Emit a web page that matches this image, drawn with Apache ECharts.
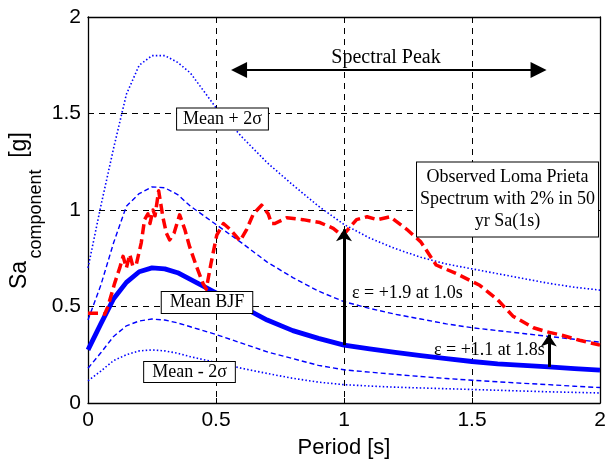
<!DOCTYPE html>
<html>
<head>
<meta charset="utf-8">
<script src="https://cdn.jsdelivr.net/npm/echarts@6/dist/echarts.min.js"></script>
<style>
html,body{margin:0;padding:0;background:#fff;}
#chart{width:613px;height:464px;}
</style>
</head>
<body>
<div id="chart"></div>
<script>
// ---- data ----
const xTicks = [0, 0.5, 1, 1.5, 2];
const xTickLabels = ['0', '0.5', '1', '1.5', '2'];
const yTicks = [0, 0.5, 1, 1.5, 2];
const yTickLabels = ['0', '0.5', '1', '1.5', '2'];

const modelPeriods = [0, 0.05, 0.1, 0.15, 0.2, 0.25, 0.3, 0.35, 0.4, 0.5, 0.6, 0.7, 0.8, 0.9, 1.0, 1.1, 1.2, 1.3, 1.4, 1.5, 1.6, 1.7, 1.8, 1.9, 2.0];
const meanBJF    = [0.275, 0.41, 0.54, 0.625, 0.68, 0.70, 0.695, 0.675, 0.64, 0.57, 0.50, 0.43, 0.375, 0.335, 0.30, 0.28, 0.262, 0.245, 0.23, 0.215, 0.203, 0.195, 0.187, 0.178, 0.17];
const meanPlus1  = [0.43, 0.61, 0.83, 1.02, 1.085, 1.12, 1.115, 1.08, 1.02, 0.925, 0.83, 0.73, 0.65, 0.58, 0.525, 0.49, 0.46, 0.435, 0.41, 0.39, 0.375, 0.36, 0.345, 0.33, 0.315];
const meanMinus1 = [0.18, 0.26, 0.345, 0.40, 0.425, 0.435, 0.43, 0.415, 0.395, 0.355, 0.31, 0.265, 0.23, 0.195, 0.172, 0.16, 0.148, 0.137, 0.127, 0.118, 0.11, 0.102, 0.095, 0.087, 0.08];
const meanPlus2  = [0.70, 1.02, 1.32, 1.60, 1.75, 1.80, 1.80, 1.765, 1.71, 1.53, 1.38, 1.245, 1.13, 1.02, 0.925, 0.855, 0.80, 0.755, 0.72, 0.695, 0.67, 0.645, 0.62, 0.60, 0.585];
const meanMinus2 = [0.115, 0.165, 0.22, 0.25, 0.27, 0.275, 0.27, 0.258, 0.24, 0.21, 0.18, 0.153, 0.128, 0.108, 0.095, 0.088, 0.082, 0.078, 0.074, 0.07, 0.066, 0.062, 0.058, 0.055, 0.052];

const obsPeriods = [0, 0.05, 0.065, 0.078, 0.104, 0.124, 0.137, 0.15, 0.163, 0.175, 0.189, 0.208, 0.221, 0.234, 0.242, 0.254, 0.262, 0.276, 0.293, 0.306, 0.319, 0.336, 0.358, 0.378, 0.397, 0.423, 0.449, 0.462, 0.48, 0.503, 0.529, 0.555, 0.594, 0.62, 0.646, 0.678, 0.704, 0.717, 0.73, 0.776, 0.84, 0.906, 0.958, 0.99, 1.01, 1.049, 1.09, 1.13, 1.18, 1.245, 1.30, 1.36, 1.44, 1.53, 1.60, 1.66, 1.74, 1.79, 1.855, 1.92, 2.0];
const obsSa      = [0.465, 0.465, 0.46, 0.50, 0.62, 0.70, 0.76, 0.70, 0.77, 0.71, 0.72, 0.83, 0.95, 0.98, 0.93, 1.00, 0.97, 1.10, 0.96, 0.88, 0.845, 0.88, 0.975, 0.90, 0.81, 0.71, 0.62, 0.59, 0.72, 0.87, 0.93, 0.90, 0.84, 0.90, 0.98, 1.025, 0.98, 0.93, 0.93, 0.96, 0.95, 0.935, 0.905, 0.87, 0.89, 0.95, 0.965, 0.95, 0.965, 0.90, 0.835, 0.715, 0.67, 0.61, 0.535, 0.45, 0.39, 0.37, 0.35, 0.325, 0.30];

// annotation arrows: [x1, y1, x2, y2]
const peakArrow = [0.59, 1.725, 1.76, 1.725];
const epsArrow1 = [1.0, 0.30, 1.0, 0.90];
const epsArrow2 = [1.8, 0.187, 1.8, 0.355];

// ---- chart ----
const zip = (xs, ys) => xs.map((x, i) => [x, ys[i]]);
const serif = 'Liberation Serif';
const sans = 'Liberation Sans';
const BLUE = '#0000ff', RED = '#ff0000';

const chart = echarts.init(document.getElementById('chart'), null, {renderer: 'canvas'});

function blueSeries(name, vals, type, width) {
  return {
    name, type: 'line', data: zip(modelPeriods, vals), showSymbol: false,
    smooth: false, z: 2,
    lineStyle: {color: BLUE, width: width, type: type, cap: 'butt', join: 'round'}
  };
}
function arrowLine(a, startSym, endSym, size, width) {
  return [{coord: [a[0], a[1]], symbol: startSym, symbolSize: size},
          {coord: [a[2], a[3]], symbol: endSym, symbolSize: size,
           lineStyle: {color: '#000', width: width, type: 'solid'}}];
}

const axisCommon = {
  type: 'value', min: 0, max: 2, interval: 0.5,
  axisLine: {show: true, onZero: false, lineStyle: {color: '#000', width: 1.3}},
  axisTick: {show: true, inside: true, length: 5, lineStyle: {color: '#000', width: 1}},
};

const option = {
  animation: false,
  backgroundColor: '#fff',
  grid: {left: 88, right: 13, top: 17, bottom: 61, containLabel: false},
  xAxis: [
    Object.assign({}, axisCommon, {
      position: 'bottom',
      axisLabel: {fontSize: 21, color: '#000', fontFamily: sans, margin: 7,
        formatter: v => xTickLabels[xTicks.findIndex(t => Math.abs(t - v) < 1e-9)]},
      splitLine: {show: true, lineStyle: {color: '#000', width: 1, type: [6, 5]}},
      name: 'Period [s]', nameLocation: 'middle', nameGap: 34,
      nameTextStyle: {fontSize: 22, color: '#000', fontFamily: sans}
    }),
    Object.assign({}, axisCommon, {position: 'top', axisLabel: {show: false}, splitLine: {show: false}})
  ],
  yAxis: [
    Object.assign({}, axisCommon, {
      position: 'left',
      axisLabel: {fontSize: 21, color: '#000', fontFamily: sans, margin: 7,
        formatter: v => yTickLabels[yTicks.findIndex(t => Math.abs(t - v) < 1e-9)]},
      splitLine: {show: true, lineStyle: {color: '#000', width: 1, type: [6, 5]}}
    }),
    Object.assign({}, axisCommon, {position: 'right', axisLabel: {show: false}, splitLine: {show: false}})
  ],
  series: [
    blueSeries('Mean + 2σ', meanPlus2, [1.5, 2.2], 1.6),
    blueSeries('Mean - 2σ', meanMinus2, [1.5, 2.2], 1.6),
    blueSeries('Mean + σ', meanPlus1, [5, 3], 1.4),
    blueSeries('Mean - σ', meanMinus1, [5, 3], 1.4),
    blueSeries('Mean BJF', meanBJF, 'solid', 4.8),
    {
      name: 'Observed', type: 'line', data: zip(obsPeriods, obsSa), showSymbol: false, z: 3,
      lineStyle: {color: RED, width: 3.5, type: [10, 5], cap: 'butt', join: 'round'}
    },
    {
      name: 'arrows', type: 'line', data: [], z: 4, silent: true,
      markLine: {
        silent: true, animation: false,
        label: {show: false},
        lineStyle: {color: '#000', width: 2.5, type: 'solid'},
        emphasis: {disabled: true},
        data: [
          arrowLine(peakArrow, 'triangle', 'triangle', 16, 2.2),
          arrowLine(epsArrow1, 'none', 'arrow', 12, 3),
          arrowLine(epsArrow2, 'none', 'arrow', 12, 3)
        ]
      }
    }
  ],
  graphic: [
    // y axis title: Sa_component [g]
    {type: 'text', x: 20, y: 275, rotation: Math.PI / 2, z: 100,
      style: {text: 'Sa', fontSize: 23, fontFamily: sans, fill: '#000', align: 'center', verticalAlign: 'middle'}},
    {type: 'text', x: 36, y: 214, rotation: Math.PI / 2, z: 100,
      style: {text: 'component', fontSize: 18, fontFamily: sans, fill: '#000', align: 'center', verticalAlign: 'middle'}},
    {type: 'text', x: 20, y: 145, rotation: Math.PI / 2, z: 100,
      style: {text: '[g]', fontSize: 23, fontFamily: sans, fill: '#000', align: 'center', verticalAlign: 'middle'}},
    // annotations
    {type: 'text', x: 386, y: 58, z: 100,
      style: {text: 'Spectral Peak', fontSize: 20, fontFamily: serif, fill: '#000', align: 'center', verticalAlign: 'middle'}},
    {type: 'text', x: 222.5, y: 119, z: 100,
      style: {text: 'Mean + 2σ', fontSize: 18, fontFamily: serif, fill: '#000', align: 'center', verticalAlign: 'middle',
        backgroundColor: '#fff', borderColor: '#000', borderWidth: 1, padding: [2, 6, 1, 6]}},
    {type: 'text', x: 207, y: 302.5, z: 100,
      style: {text: 'Mean BJF', fontSize: 18, fontFamily: serif, fill: '#000', align: 'center', verticalAlign: 'middle',
        backgroundColor: '#fff', borderColor: '#000', borderWidth: 1, padding: [2, 8, 1, 8]}},
    {type: 'text', x: 189.5, y: 372, z: 100,
      style: {text: 'Mean - 2σ', fontSize: 18, fontFamily: serif, fill: '#000', align: 'center', verticalAlign: 'middle',
        backgroundColor: '#fff', borderColor: '#000', borderWidth: 1, padding: [1, 8, 1, 8]}},
    {type: 'text', x: 507.5, y: 199.5, z: 100,
      style: {text: 'Observed Loma Prieta\nSpectrum with 2% in 50\nyr Sa(1s)', fontSize: 18, lineHeight: 22,
        fontFamily: serif, fill: '#000', align: 'center', verticalAlign: 'middle',
        backgroundColor: '#fff', borderColor: '#000', borderWidth: 1, padding: [4, 3, 4, 3]}},
    {type: 'text', x: 352, y: 293, z: 100,
      style: {text: 'ε = +1.9 at 1.0s', fontSize: 18, fontFamily: serif, fill: '#000', align: 'left', verticalAlign: 'middle'}},
    {type: 'text', x: 434, y: 350, z: 1,
      style: {text: 'ε = +1.1 at 1.8s', fontSize: 18, fontFamily: serif, fill: '#000', align: 'left', verticalAlign: 'middle'}}
  ]
};
chart.setOption(option);
</script>
</body>
</html>
